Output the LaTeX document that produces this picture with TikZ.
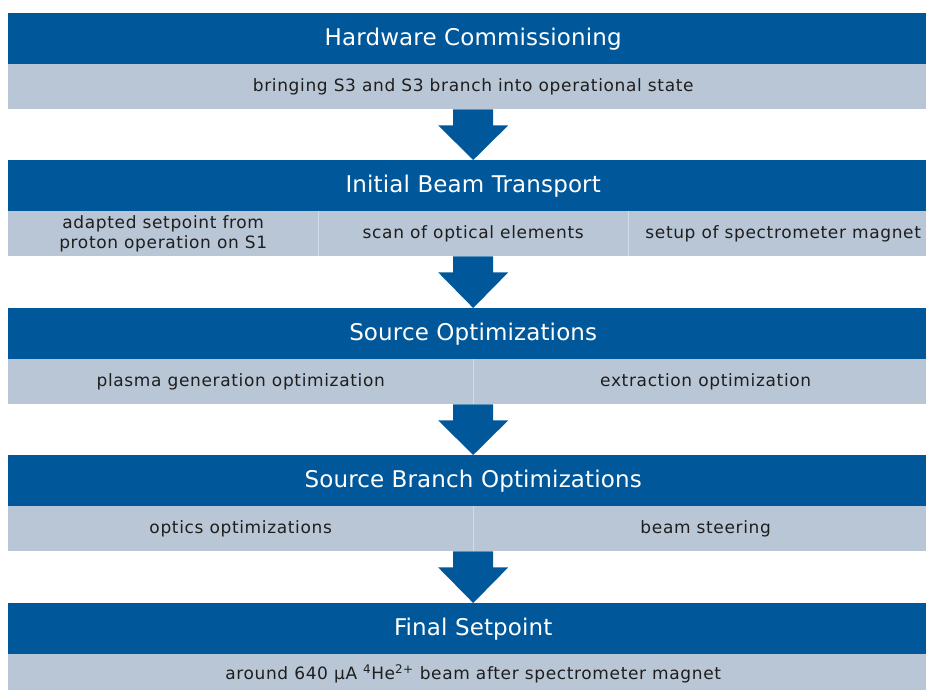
\documentclass[tikz,border=0pt]{standalone}
\usepackage{fontspec}
\setmainfont{DejaVu Sans}
\newfontfamily\bandfont[LetterSpace=3.8]{DejaVu Sans}
\newfontfamily\hdrfont[LetterSpace=0.6]{DejaVu Sans}
\usetikzlibrary{calc}
\definecolor{hdrblue}{HTML}{00589A}
\definecolor{bandgray}{HTML}{B9C6D6}
\definecolor{divline}{HTML}{D3DCE6}
\definecolor{txtdark}{HTML}{1E1E1E}
\tikzset{
  hdr/.style={fill=hdrblue, text=white, anchor=north west, minimum width=930pt, minimum height=51pt, inner sep=0pt, font=\hdrfont\fontsize{23}{27}\selectfont},
  band/.style={fill=bandgray, text=txtdark, anchor=north west, minimum height=45pt, inner sep=0pt, font=\bandfont\fontsize{17}{20}\selectfont, align=center},
  flowarrow/.style={fill=hdrblue}
}
\newcommand{\flowarr}[2]{%
  \fill[flowarrow] ($(#1)+(-20,0)$) -- ($(#1)+(20,0)$) -- ($(#1)+(20,16)$) -- ($(#1)+(35,16)$) -- (#2.north) -- ($(#1)+(-35,16)$) -- ($(#1)+(-20,16)$) -- cycle;}
\begin{document}
\begin{tikzpicture}[x=1pt,y=-1pt]
\useasboundingbox (0,0) rectangle (926,689);
\clip (0,0) rectangle (926,689);
% row 1
\node[hdr] (h1) at (8,13) {Hardware Commissioning};
\node[band, minimum width=930pt] (b1) at (8,64) {bringing S3 and S3 branch into operational state};
% row 2
\node[hdr] (h2) at (8,160) {Initial Beam Transport};
\node[band, minimum width=310pt] (b2a) at (8,211) {adapted setpoint from\\proton operation on S1};
\node[band, minimum width=310pt] (b2b) at (318,211) {scan of optical elements};
\node[band, minimum width=310pt] (b2c) at (628,211) {setup of spectrometer magnet};
\draw[divline, line width=1pt] (b2a.north east) -- (b2a.south east);
\draw[divline, line width=1pt] (b2b.north east) -- (b2b.south east);
% row 3
\node[hdr] (h3) at (8,308) {Source Optimizations};
\node[band, minimum width=465pt] (b3a) at (8,359) {plasma generation optimization};
\node[band, minimum width=465pt] (b3b) at (473,359) {extraction optimization};
\draw[divline, line width=1pt] (b3a.north east) -- (b3a.south east);
% row 4
\node[hdr] (h4) at (8,455) {Source Branch Optimizations};
\node[band, minimum width=465pt] (b4a) at (8,506) {optics optimizations};
\node[band, minimum width=465pt] (b4b) at (473,506) {beam steering};
\draw[divline, line width=1pt] (b4a.north east) -- (b4a.south east);
% row 5
\node[hdr] (h5) at (8,603) {Final Setpoint};
\node[band, minimum width=930pt, minimum height=40pt] (b5) at (8,654) {around 640 µA \textsuperscript{4}He\textsuperscript{2+} beam after spectrometer magnet};
% arrows
\flowarr{b1.south}{h2}
\flowarr{b2b.south}{h3}
\coordinate (m3) at ($(b3a.south east)!0.5!(b3b.south west)$);
\flowarr{m3}{h4}
\coordinate (m4) at ($(b4a.south east)!0.5!(b4b.south west)$);
\flowarr{m4}{h5}
\end{tikzpicture}
\end{document}
